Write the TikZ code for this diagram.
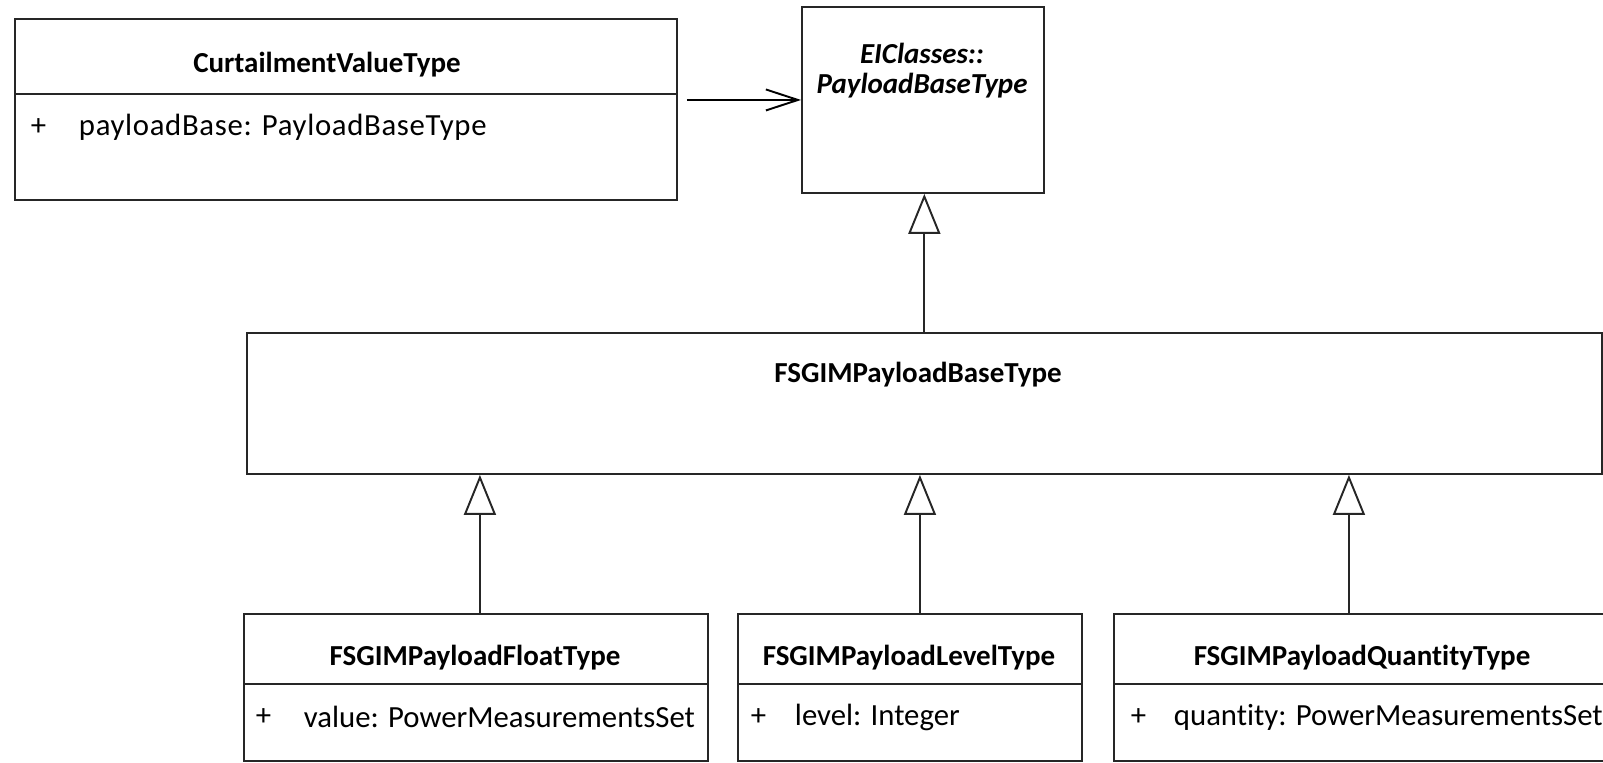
\documentclass[tikz,border=0pt]{standalone}
\usepackage{fontspec}
\setmainfont{Carlito}[Ligatures=NoCommon]
\usetikzlibrary{arrows.meta}

\begin{document}
\begin{tikzpicture}[x=0.02cm, y=-0.02cm, line width=1.1pt, line join=miter,
  box/.style={draw=black!85, anchor=north west, inner sep=0pt},
  ttl/.style={font=\fontsize{16.5}{17}\selectfont\bfseries},
  attr/.style={font=\fontsize{17.5}{21}\selectfont, anchor=west, inner sep=0pt},
  inh/.style={draw=black!85, -{Triangle[open, length=0.8cm, width=0.64cm]}},
  assoc/.style={-{Straight Barb[length=0.64cm, width=0.42cm]}}]
\useasboundingbox (0,0) rectangle (1603,762);
\clip (0,0) rectangle (1603,762);
% class boxes
\node[box, minimum width=13.24cm, minimum height=3.62cm] (cvt) at (14,18) {};
\node[box, minimum width=4.84cm, minimum height=3.72cm] (ei) at (801,6) {};
\node[box, minimum width=27.1cm, minimum height=2.82cm] (base) at (246,332) {};
\node[box, minimum width=9.28cm, minimum height=2.94cm] (flt) at (243,613) {};
\node[box, minimum width=6.88cm, minimum height=2.94cm] (lvl) at (737,613) {};
\node[box, minimum width=9.96cm, minimum height=2.94cm] (qty) at (1113,613) {};
% compartments
\draw[black!85] (cvt.west |- 0,94)--(cvt.east |- 0,94);
\draw[black!85] (flt.west |- 0,684)--(flt.east |- 0,684)
(lvl.west |- 0,684)--(lvl.east |- 0,684)
(qty.west |- 0,684)--(qty.east |- 0,684);
% names
\node[ttl] (cvtT) at (327,65) {CurtailmentValueType};
\node[ttl, font=\fontsize{16.5}{17}\selectfont\bfseries\itshape, align=center] (eiT) at (922,71) {EIClasses::\\PayloadBaseType};
\node[ttl] (baseT) at (918,375) {FSGIMPayloadBaseType};
\node[ttl] (fltT) at (475,658) {FSGIMPayloadFloatType};
\node[ttl] (lvlT) at (909,658) {FSGIMPayloadLevelType};
\node[ttl] (qtyT) at (1362,658) {FSGIMPayloadQuantityType};
% attributes
\node[attr] (cvtP) at (30,127) {+};
\node[attr] (cvtA) at (78,127) {\addfontfeatures{LetterSpace=2.2}payloadBase: PayloadBaseType};
\node[attr] (fltP) at (255,717) {+};
\node[attr] (fltA) at (303,717) {value: PowerMeasurementsSet};
\node[attr] (lvlP) at (750,717) {+};
\node[attr] (lvlA) at (794,717) {level: Integer};
\node[attr] (qtyP) at (1130,717) {+};
\node[attr] (qtyA) at (1173,717) {quantity: PowerMeasurementsSet};
% connectors
\draw[assoc] ([shift={(9,-9.5)}]cvt.east) coordinate (a0) -- (a0 -| ei.west);
\draw[inh] (base.north) -- (base.north |- ei.south);
\draw[inh] ([xshift=0.08cm]flt.north) coordinate (f0) -- (f0 |- base.south);
\draw[inh] ([xshift=0.2cm]lvl.north) coordinate (l0) -- (l0 |- base.south);
\draw[inh] ([xshift=-0.28cm]qty.north) coordinate (q0) -- (q0 |- base.south);
\end{tikzpicture}
\end{document}
